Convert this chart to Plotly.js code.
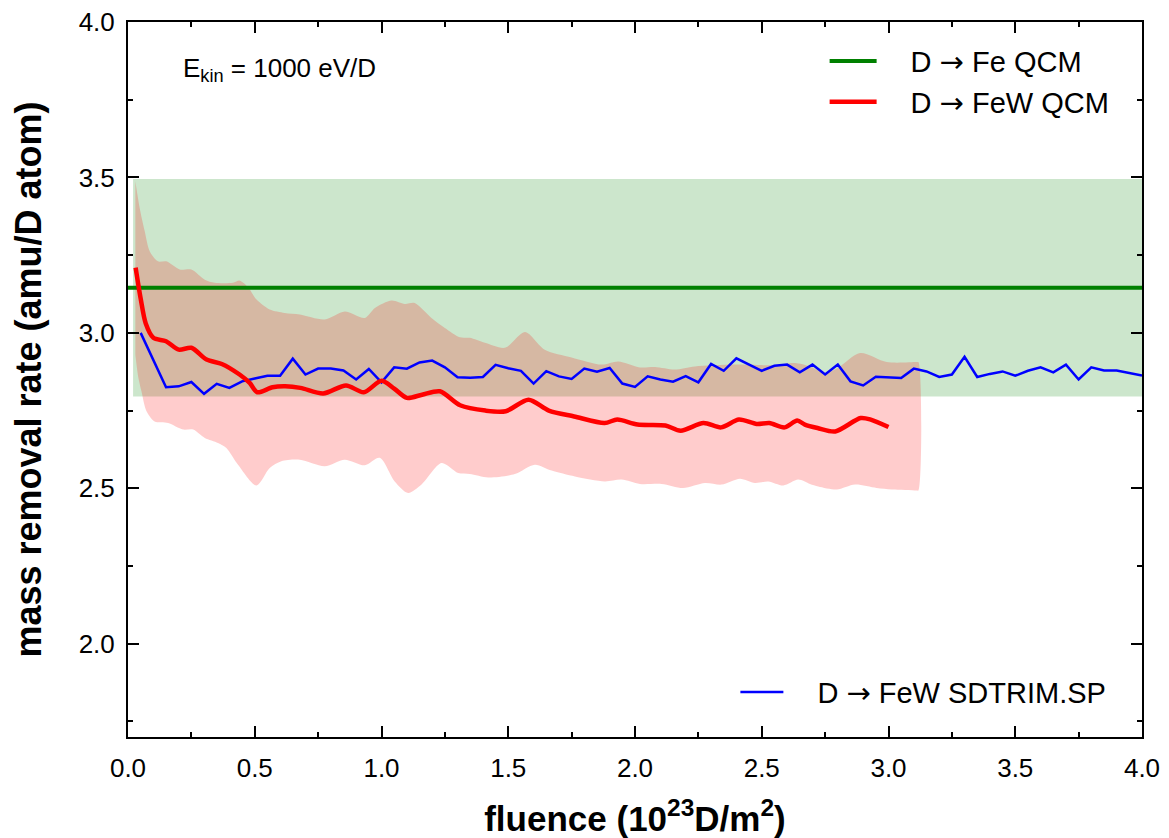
<!DOCTYPE html>
<html><head><meta charset="utf-8">
<script src="https://cdn.plot.ly/plotly-3.0.1.min.js"></script>
<style>html,body{margin:0;padding:0;background:#fff}</style>
</head><body><div id="chart" style="width:1169px;height:838px"></div>
<script>
// ---- data ----
// Fe QCM reference value and its uncertainty band
const feQcmValue = 3.145;
const feQcmLow = 2.795;
const feQcmHigh = 3.495;
const feQcmXStart = 0.02;
const feQcmXEnd = 4.0;

// FeW QCM measured curve
const fewQcmX = [0.03,0.05,0.07,0.10,0.15,0.20,0.25,0.31,0.37,0.44,0.48,0.51,0.57,0.62,0.68,0.77,0.86,0.93,1.00,1.05,1.10,1.16,1.23,1.31,1.41,1.49,1.58,1.66,1.76,1.88,1.93,2.01,2.12,2.18,2.27,2.34,2.41,2.48,2.53,2.59,2.64,2.67,2.72,2.79,2.89,2.93,3.00];
const fewQcmY = [3.21,3.11,3.03,2.984,2.973,2.946,2.952,2.914,2.900,2.866,2.839,2.809,2.825,2.828,2.823,2.805,2.831,2.809,2.846,2.821,2.791,2.801,2.812,2.767,2.750,2.748,2.785,2.750,2.731,2.710,2.721,2.705,2.702,2.685,2.710,2.696,2.721,2.707,2.710,2.696,2.718,2.705,2.694,2.683,2.726,2.721,2.697];

// FeW QCM uncertainty band (upper and lower edges)
const fewBandUpX = [0.029,0.046,0.066,0.086,0.118,0.151,0.204,0.25,0.303,0.342,0.414,0.441,0.474,0.507,0.559,0.618,0.678,0.776,0.855,0.934,0.974,1.04,1.092,1.131,1.197,1.25,1.309,1.348,1.408,1.487,1.566,1.644,1.75,1.868,1.934,2.019,2.079,2.157,2.236,2.394,2.552,2.631,2.69,2.75,2.80,2.888,2.993,3.11,3.118];
const fewBandUpY = [3.488,3.402,3.327,3.262,3.230,3.230,3.204,3.204,3.171,3.161,3.161,3.168,3.147,3.107,3.075,3.064,3.059,3.043,3.069,3.048,3.080,3.104,3.093,3.096,3.048,3.016,2.986,2.984,2.968,2.952,3.003,2.946,2.921,2.898,2.908,2.889,2.890,2.882,2.892,2.898,2.896,2.903,2.892,2.871,2.887,2.935,2.906,2.906,2.906];
const fewBandLoX = [0.029,0.04,0.053,0.073,0.105,0.158,0.217,0.257,0.303,0.355,0.388,0.434,0.507,0.559,0.605,0.678,0.776,0.855,0.934,0.993,1.052,1.105,1.158,1.237,1.302,1.348,1.421,1.526,1.605,1.671,1.763,1.881,1.947,2.019,2.105,2.19,2.276,2.342,2.414,2.473,2.526,2.585,2.644,2.69,2.723,2.796,2.868,2.953,3.013,3.11,3.118];
const fewBandLoY = [2.930,2.860,2.812,2.748,2.715,2.710,2.689,2.689,2.662,2.646,2.630,2.576,2.509,2.565,2.587,2.592,2.571,2.592,2.574,2.598,2.522,2.485,2.512,2.581,2.549,2.546,2.535,2.546,2.576,2.557,2.538,2.522,2.528,2.514,2.514,2.501,2.517,2.512,2.531,2.517,2.522,2.509,2.528,2.514,2.506,2.496,2.512,2.501,2.496,2.493,2.493];

// SDTRIM.SP simulation
const sdtrimX = [0.05,0.10,0.15,0.20,0.25,0.30,0.35,0.40,0.45,0.50,0.55,0.60,0.65,0.70,0.75,0.80,0.85,0.90,0.95,1.00,
  1.05,1.10,1.15,1.20,1.25,1.30,1.35,1.40,1.45,1.50,1.55,1.60,1.65,1.70,1.75,1.80,1.85,1.90,1.95,2.00,
  2.05,2.10,2.15,2.20,2.25,2.30,2.35,2.40,2.45,2.50,2.55,2.60,2.65,2.70,2.75,2.80,2.85,2.90,2.95,3.00,
  3.05,3.10,3.15,3.20,3.25,3.30,3.35,3.40,3.45,3.50,3.55,3.60,3.65,3.70,3.75,3.80,3.85,3.90,3.95,4.00];
const sdtrimY = [3.000,2.912,2.825,2.828,2.842,2.804,2.836,2.823,2.844,2.853,2.862,2.862,2.917,2.866,2.885,2.885,2.879,2.850,2.884,2.841,
  2.889,2.885,2.905,2.911,2.889,2.857,2.856,2.858,2.897,2.886,2.878,2.837,2.877,2.860,2.852,2.885,2.875,2.887,2.837,2.826,
  2.860,2.850,2.843,2.861,2.841,2.900,2.878,2.918,2.898,2.878,2.894,2.898,2.873,2.898,2.866,2.898,2.844,2.831,2.859,2.857,
  2.855,2.885,2.876,2.858,2.866,2.923,2.858,2.868,2.876,2.862,2.878,2.889,2.873,2.898,2.850,2.889,2.879,2.879,2.871,2.863];

const xTicks = [0,0.5,1.0,1.5,2.0,2.5,3.0,3.5,4.0];
const xTickText = ['0.0','0.5','1.0','1.5','2.0','2.5','3.0','3.5','4.0'];
const yTicks = [2.0,2.5,3.0,3.5,4.0];
const yTickText = ['2.0','2.5','3.0','3.5','4.0'];

const ARROW = '<span style="font-family:DejaVu Sans">\u2192</span>';
const PAD = '\u2002\u2002';
const labelFe = PAD + 'D ' + ARROW + ' Fe QCM';
const labelFeW = PAD + 'D ' + ARROW + ' FeW QCM';
const labelSim = PAD + 'D ' + ARROW + ' FeW SDTRIM.SP';

// ---- traces ----
const FONT = 'Liberation Sans, Arial, Helvetica, sans-serif';

const greenBand = {
  x: [feQcmXStart, feQcmXEnd, feQcmXEnd, feQcmXStart],
  y: [feQcmLow, feQcmLow, feQcmHigh, feQcmHigh],
  type: 'scatter', mode: 'lines', fill: 'toself',
  fillcolor: 'rgba(0,128,0,0.2)', line: {width: 0},
  showlegend: false, hoverinfo: 'skip'
};
const redBand = {
  x: fewBandUpX.concat(fewBandLoX.slice().reverse()),
  y: fewBandUpY.concat(fewBandLoY.slice().reverse()),
  type: 'scatter', mode: 'lines', fill: 'toself',
  fillcolor: 'rgba(255,0,0,0.2)', line: {width: 0, shape: 'spline', smoothing: 0.8},
  showlegend: false, hoverinfo: 'skip'
};
const greenLine = {
  x: [0, feQcmXEnd], y: [feQcmValue, feQcmValue],
  type: 'scatter', mode: 'lines', name: labelFe,
  line: {color: '#008000', width: 4},
  legend: 'legend', legendgroup: 'g1'
};
const blueLine = {
  x: sdtrimX, y: sdtrimY, type: 'scatter', mode: 'lines', name: labelSim,
  line: {color: '#0000ff', width: 2.5},
  legend: 'legend2', legendgroup: 'g3'
};
const redLine = {
  x: fewQcmX, y: fewQcmY, type: 'scatter', mode: 'lines', name: labelFeW,
  line: {color: '#ff0000', width: 4.5, shape: 'spline', smoothing: 0.8},
  legend: 'legend', legendgroup: 'g2'
};

const axisCommon = {
  showline: true, linewidth: 2, linecolor: 'black', mirror: 'ticks',
  ticks: 'inside', ticklen: 11, tickwidth: 2, tickcolor: 'black',
  showgrid: false, zeroline: false,
  tickfont: {family: FONT, size: 26, color: 'black'},
  minor: {dtick: 0.25, ticks: 'inside', ticklen: 5, tickwidth: 2, tickcolor: 'black', showgrid: false}
};

const layout = {
  width: 1169, height: 838,
  margin: {l: 128, r: 27, t: 22, b: 101},
  paper_bgcolor: 'white', plot_bgcolor: 'white',
  font: {family: FONT, color: 'black'},
  xaxis: Object.assign({}, axisCommon, {
    range: [0, 4.0], tickmode: 'array', tickvals: xTicks, ticktext: xTickText,
    ticklabelstandoff: 7,
    title: {text: '<b>fluence (10<sup>23</sup>D/m<sup>2</sup>)</b>', font: {family: FONT, size: 35, color: 'black'}, standoff: 24}
  }),
  yaxis: Object.assign({}, axisCommon, {
    range: [1.7, 4.0], tickmode: 'array', tickvals: yTicks, ticktext: yTickText,
    ticklabelstandoff: 6,
    title: {text: '<b>mass removal rate (amu/D atom)</b>', font: {family: FONT, size: 36, color: 'black'}, standoff: 26}
  }),
  legend: {
    x: 0.687, y: 0.981, xanchor: 'left', yanchor: 'top',
    font: {family: FONT, size: 29, color: 'black'},
    bgcolor: 'rgba(0,0,0,0)', borderwidth: 0, itemwidth: 47,
    traceorder: 'grouped', tracegroupgap: 0
  },
  legend2: {
    x: 0.599, y: 0.0985, xanchor: 'left', yanchor: 'top',
    font: {family: FONT, size: 29, color: 'black'},
    bgcolor: 'rgba(0,0,0,0)', borderwidth: 0, itemwidth: 43
  },
  annotations: [{
    xref: 'paper', yref: 'paper', x: 0.052, y: 0.933, xanchor: 'left', yanchor: 'middle',
    text: 'E<sub>kin</sub> = 1000 eV/D', showarrow: false,
    font: {family: FONT, size: 26, color: 'black'}
  }]
};

Plotly.newPlot('chart', [greenBand, redBand, greenLine, blueLine, redLine], layout, {displayModeBar: false, staticPlot: true});
</script>
</body></html>
